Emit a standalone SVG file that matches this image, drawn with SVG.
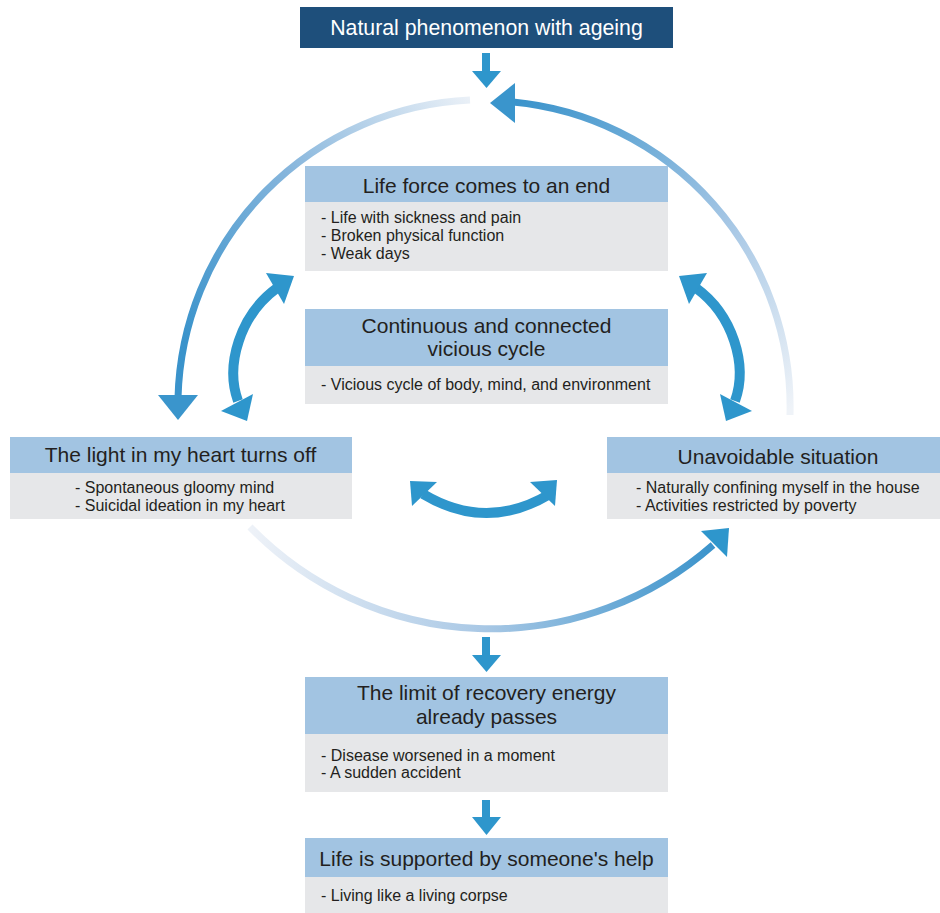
<svg xmlns="http://www.w3.org/2000/svg" width="940" height="913" viewBox="0 0 940 913">
<style>
.hdr{fill:#a2c4e2}
.body{fill:#e6e7e9}
.t{font-family:"Liberation Sans",Arial,sans-serif;font-size:21px;fill:#231f20;text-anchor:middle}
.b{font-family:"Liberation Sans",Arial,sans-serif;font-size:16px;fill:#231f20}
.solid{fill:none;stroke:#2e96cc;stroke-width:10}
.head{fill:#2e96cc}
.ohead{fill:#3a95cc}
</style>
<defs>
<linearGradient id="gL" gradientUnits="userSpaceOnUse" x1="470" y1="100" x2="185" y2="340">
<stop offset="0" stop-color="#eaf0f7"/><stop offset="0.5" stop-color="#85b5dc"/><stop offset="1" stop-color="#3a93cb"/>
</linearGradient>
<linearGradient id="gR" gradientUnits="userSpaceOnUse" x1="515" y1="100" x2="790" y2="410">
<stop offset="0" stop-color="#3a93cb"/><stop offset="0.55" stop-color="#a3c5e4"/><stop offset="1" stop-color="#eff3f8"/>
</linearGradient>
<linearGradient id="gB" gradientUnits="userSpaceOnUse" x1="250" y1="0" x2="715" y2="0">
<stop offset="0" stop-color="#eef2f8"/><stop offset="0.5" stop-color="#a9c8e5"/><stop offset="1" stop-color="#3a93cb"/>
</linearGradient>
</defs>

<g id="connectors">
<rect x="482" y="53" width="8" height="19" fill="#2e96cc"/>
<polygon class="head" points="472,71 501,71 486.5,88"/>
<path d="M 470,100 A 306 306 0 0 0 178,398" fill="none" stroke="url(#gL)" stroke-width="7"/>
<polygon class="ohead" points="158,395 198,395 178,420"/>
<path d="M 513,102 A 306 306 0 0 1 790,415" fill="none" stroke="url(#gR)" stroke-width="7"/>
<polygon class="ohead" points="515,83 515,123 490,103"/>
<path class="solid" d="M 277,288 C 240,315 225,365 238,401"/>
<polygon class="head" points="266,273 284,304 294,276"/>
<polygon class="head" points="221,411 253,394 247,421"/>
<path class="solid" d="M 696,288 C 733,315 748,365 735,401"/>
<polygon class="head" points="707,273 689,304 679,276"/>
<polygon class="head" points="752,411 720,394 726,421"/>
<path class="solid" d="M 423,494 Q 486.5,532 550,494"/>
<polygon class="head" points="410,481 437,482 412,506"/>
<polygon class="head" points="557,480 530,482 555,506"/>
<path d="M 250,527 A 336 336 0 0 0 713,545" fill="none" stroke="url(#gB)" stroke-width="7"/>
<polygon class="head" points="701,531 729,528 727,557"/>
<rect x="482" y="637" width="8" height="18" fill="#2e96cc"/>
<polygon class="head" points="472,655 501,655 486.5,672"/>
<rect x="482" y="800" width="8" height="18" fill="#2e96cc"/>
<polygon class="head" points="472,817 501,817 486.5,835"/>
</g>

<g id="n-natural">
<rect x="300" y="7" width="373" height="41" fill="#1e4f7b"/>
<text x="486.5" y="34.5" class="t" style="fill:#ffffff;font-size:21.3px">Natural phenomenon with ageing</text>
</g>

<g id="n-lifeforce">
<rect class="hdr" x="305" y="166" width="363" height="36"/>
<rect class="body" x="305" y="202" width="363" height="69"/>
<text x="486.5" y="192.5" class="t">Life force comes to an end</text>
<text x="321" y="222.5" class="b">- Life with sickness and pain</text>
<text x="321" y="240.5" class="b">- Broken physical function</text>
<text x="321" y="258.5" class="b">- Weak days</text>
</g>

<g id="n-vicious">
<rect class="hdr" x="305" y="309" width="363" height="57"/>
<rect class="body" x="305" y="366" width="363" height="38"/>
<text x="486.5" y="332.5" class="t">Continuous and connected</text>
<text x="486.5" y="355.5" class="t">vicious cycle</text>
<text x="321" y="389.5" class="b">- Vicious cycle of body, mind, and environment</text>
</g>

<g id="n-light">
<rect class="hdr" x="10" y="437" width="342" height="36"/>
<rect class="body" x="10" y="473" width="342" height="46"/>
<text x="180.5" y="461.5" class="t">The light in my heart turns off</text>
<text x="75" y="492.5" class="b">- Spontaneous gloomy mind</text>
<text x="75" y="510.5" class="b">- Suicidal ideation in my heart</text>
</g>

<g id="n-unavoidable">
<rect class="hdr" x="607" y="437" width="333" height="36"/>
<rect class="body" x="607" y="473" width="333" height="46"/>
<text x="778" y="463.5" class="t">Unavoidable situation</text>
<text x="636" y="492.5" class="b">- Naturally confining myself in the house</text>
<text x="636" y="510.5" class="b">- Activities restricted by poverty</text>
</g>

<g id="n-limit">
<rect class="hdr" x="305" y="677" width="363" height="57"/>
<rect class="body" x="305" y="734" width="363" height="58"/>
<text x="486.5" y="699.5" class="t">The limit of recovery energy</text>
<text x="486.5" y="723.5" class="t">already passes</text>
<text x="321" y="760.5" class="b">- Disease worsened in a moment</text>
<text x="321" y="777.5" class="b">- A sudden accident</text>
</g>

<g id="n-supported">
<rect class="hdr" x="305" y="838" width="363" height="39"/>
<rect class="body" x="305" y="877" width="363" height="36"/>
<text x="486.5" y="865.5" class="t">Life is supported by someone's help</text>
<text x="321" y="900.5" class="b">- Living like a living corpse</text>
</g>
</svg>
